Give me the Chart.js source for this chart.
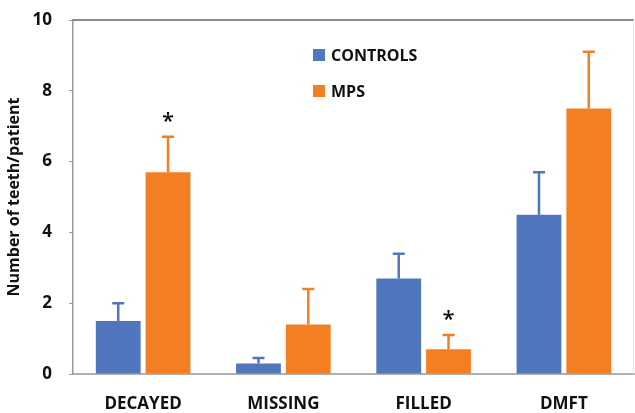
<!DOCTYPE html>
<html>
<head>
<meta charset="utf-8">
<script src="https://cdn.jsdelivr.net/npm/chart.js@4"></script>
<style>
	html, body { margin: 0; padding: 0; background: #fff; }
	#wrap { width: 635px; height: 413px; }
</style>
</head>
<body>
<div id="wrap"><canvas id="teeth_chart"></canvas></div>
<script>
// Data.
const categories = ['DECAYED', 'MISSING', 'FILLED', 'DMFT'];
const controlsValues = [1.5, 0.3, 2.7, 4.5];
const controlsErr = [0.5, 0.15, 0.7, 1.2];
const mpsValues = [5.7, 1.4, 0.7, 7.5];
const mpsErr = [1.0, 1.0, 0.4, 1.6];
const mpsSignificant = [true, false, true, false];
const yTicks = [0, 2, 4, 6, 8, 10];

const BLUE = '#5077BE';
const ORANGE = '#F47F22';
const FONT = "'Open Sans', 'Liberation Sans', Arial, sans-serif";

// Upward error bars with a cap, plus significance asterisks.
const errorBars = {
	id: 'errorBars',
	afterDatasetsDraw(chart) {
		const ctx = chart.ctx;
		const y = chart.scales.y;
		chart.data.datasets.forEach((ds, i) => {
			const meta = chart.getDatasetMeta(i);
			meta.data.forEach((bar, j) => {
				const top = y.getPixelForValue(ds.data[j] + ds.errors[j]);
				ctx.save();
				ctx.strokeStyle = ds.backgroundColor;
				ctx.lineWidth = 2.5;
				ctx.beginPath();
				ctx.moveTo(bar.x, bar.y);
				ctx.lineTo(bar.x, top);
				ctx.moveTo(bar.x - 6, top);
				ctx.lineTo(bar.x + 6, top);
				ctx.stroke();
				if (ds.stars && ds.stars[j]) {
					ctx.fillStyle = '#111';
					ctx.font = '600 22px ' + FONT;
					ctx.textAlign = 'center';
					ctx.textBaseline = 'middle';
					ctx.fillText('*', bar.x, top - 15);
				}
				ctx.restore();
			});
		});
	}
};

// Top and right frame lines, and the stacked legend inside the plot.
const frameAndLegend = {
	id: 'frameAndLegend',
	afterDraw(chart) {
		const ctx = chart.ctx;
		const a = chart.chartArea;
		ctx.save();
		ctx.strokeStyle = '#666';
		ctx.lineWidth = 1.5;
		ctx.beginPath();
		ctx.moveTo(a.left, a.top);
		ctx.lineTo(a.right, a.top);
		ctx.stroke();
		ctx.strokeStyle = '#e4e4e4';
		ctx.lineWidth = 1;
		ctx.beginPath();
		ctx.moveTo(a.right - 0.5, a.top);
		ctx.lineTo(a.right - 0.5, a.bottom);
		ctx.stroke();

		const lx = a.left + 240;
		let ly = a.top + 29;
		ctx.font = 'bold 16px ' + FONT;
		ctx.textBaseline = 'middle';
		ctx.textAlign = 'left';
		chart.data.datasets.forEach(ds => {
			ctx.fillStyle = ds.backgroundColor;
			ctx.fillRect(lx, ly, 12, 12);
			ctx.fillStyle = '#111';
			ctx.fillText(ds.label, lx + 18, ly + 7);
			ly += 36;
		});
		ctx.restore();
	}
};

const chart = new Chart(document.getElementById('teeth_chart'), {
	type: 'bar',
	data: {
		labels: categories,
		datasets: [{
			label: 'CONTROLS',
			data: controlsValues,
			errors: controlsErr,
			backgroundColor: BLUE,
		}, {
			label: 'MPS',
			data: mpsValues,
			errors: mpsErr,
			stars: mpsSignificant,
			backgroundColor: ORANGE,
		}]
	},
	options: {
		responsive: true,
		maintainAspectRatio: false,
		animation: false,
		categoryPercentage: 0.71,
		barPercentage: 0.9,
		layout: {
			padding: { top: 20, right: 1, left: 0, bottom: 0 }
		},
		scales: {
			x: {
				grid: { display: false, drawTicks: false },
				border: { color: '#b0b0b0', width: 2 },
				ticks: {
					color: '#111',
					font: { family: FONT, size: 17, weight: 'bold' },
					padding: 20,
				},
				afterFit: scale => {
					scale.height = 39;
					scale.paddingLeft = 0;
					scale.paddingRight = 0;
				}
			},
			y: {
				min: 0,
				max: 10,
				afterBuildTicks: scale => {
					scale.ticks = yTicks.map(v => ({ value: v }));
				},
				grid: { drawOnChartArea: false, tickLength: 4, color: '#999' },
				border: { color: '#999', width: 1.5 },
				ticks: {
					color: '#111',
					font: { family: FONT, size: 17, weight: 'bold' },
					padding: 17,
				},
				title: {
					display: true,
					text: 'Number of teeth/patient',
					color: '#111',
					font: { family: FONT, size: 16, weight: 'bold' },
					padding: { top: 5, bottom: 0 }
				},
				afterFit: scale => {
					scale.width = 73;
					scale.paddingTop = 0;
					scale.paddingBottom = 0;
				}
			}
		},
		plugins: {
			legend: { display: false },
			tooltip: { enabled: false }
		}
	},
	plugins: [errorBars, frameAndLegend]
});
</script>
</body>
</html>
